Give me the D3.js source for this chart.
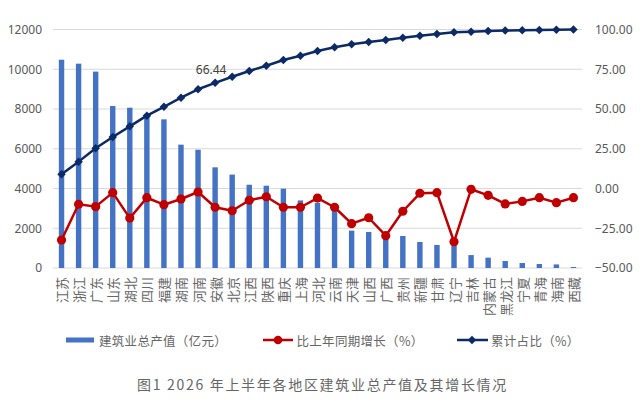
<!DOCTYPE html>
<html><head><meta charset="utf-8">
<script src="https://cdn.jsdelivr.net/npm/d3@7"></script>
<style>
html,body{margin:0;padding:0;background:#fff;}
svg{display:block;font-family:"Noto Sans","Noto Sans CJK SC",sans-serif;}
</style></head>
<body><svg id="chart" width="644" height="403"></svg>
<script>
const regions = ["江苏","浙江","广东","山东","湖北","四川","福建","湖南","河南","安徽","北京","江西","陕西","重庆","上海","河北","云南","天津","山西","广西","贵州","新疆","甘肃","辽宁","吉林","内蒙古","黑龙江","宁夏","青海","海南","西藏"];
const output = [10480,10280,9880,8150,8065,7750,7480,6205,5950,5065,4700,4190,4140,3990,3400,3270,3100,1880,1810,1750,1610,1310,1160,1250,650,520,350,250,200,180,50];
const growth = [-32.4,-9.9,-11.4,-2.6,-18.6,-5.8,-10.2,-6.6,-2.2,-11.8,-14.0,-7.4,-5.2,-11.8,-11.8,-6.0,-11.8,-22.1,-18.4,-29.7,-14.3,-3.0,-2.6,-33.5,-0.5,-4.3,-9.7,-8.1,-5.8,-8.9,-5.8];
const cumShare = [8.9,16.9,25.3,32.4,39.1,45.8,51.4,57.1,62.4,66.44,70.3,73.9,77.2,80.8,83.5,86.5,88.8,90.7,92.1,93.4,94.8,96.1,97.2,98.2,98.6,99.1,99.3,99.5,99.7,99.8,100];
const leftTicks = [0,2000,4000,6000,8000,10000,12000];
const rightTicks = [-50,-25,0,25,50,75,100];
const seriesNames = ["建筑业总产值（亿元）","比上年同期增长（%）","累计占比（%）"];
const labelIndex = 9;
const title = "图1 2026 年上半年各地区建筑业总产值及其增长情况";

const svg = d3.select("#chart");
const L = 53, R = 582, T = 29.5, B = 268;
const x = d3.scaleBand().domain(regions).range([L, R]);
const yL = d3.scaleLinear().domain([0,12000]).range([B, T]);
const yR = d3.scaleLinear().domain([-50,100]).range([B, T]);
const grey = "#595959", lightGrey = "#666666";
const cBar = "#4472C4", cRed = "#C00000", cNavy = "#0B2A66";

// gridlines
svg.append("g").selectAll("line").data(leftTicks).join("line")
  .attr("x1", L).attr("x2", R)
  .attr("y1", d => yL(d)).attr("y2", d => yL(d))
  .attr("stroke", "#D9D9D9").attr("stroke-width", 1);

// left axis labels
const gl = svg.append("g").attr("transform", `translate(${L},0)`)
  .call(d3.axisLeft(yL).tickValues(leftTicks).tickSize(0).tickPadding(11).tickFormat(d3.format("d")));
gl.select(".domain").remove();
gl.selectAll("text").attr("fill", grey).style("font-size", "12px").style("font-family", "Noto Sans");

// right axis labels
const gr = svg.append("g").attr("transform", `translate(${R},0)`)
  .call(d3.axisRight(yR).tickValues(rightTicks).tickSize(0).tickPadding(13).tickFormat(d3.format(".2f")));
gr.select(".domain").remove();
gr.selectAll("text").attr("fill", grey).style("font-size", "12px").style("font-family", "Noto Sans");

// bars
const bw = 5.4;
svg.append("g").selectAll("rect").data(output).join("rect")
  .attr("x", (d,i) => x(regions[i]) + x.bandwidth()/2 - bw/2)
  .attr("width", bw)
  .attr("y", d => yL(d))
  .attr("height", d => yL(0) - yL(d))
  .attr("fill", cBar);

// category labels
svg.append("g").selectAll("text").data(regions).join("text")
  .attr("transform", d => `translate(${x(d) + x.bandwidth()/2},277) rotate(-90)`)
  .attr("text-anchor", "end")
  .attr("dominant-baseline", "central")
  .attr("fill", lightGrey)
  .style("font-family", "Noto Sans CJK SC")
  .style("font-size", "13px")
  .text(d => d);

const cx = (i) => x(regions[i]) + x.bandwidth()/2;

// growth line
svg.append("path").datum(growth)
  .attr("d", d3.line().x((d,i) => cx(i)).y(d => yR(d)))
  .attr("fill", "none").attr("stroke", cRed).attr("stroke-width", 2.5).attr("stroke-linejoin", "round");
svg.append("g").selectAll("circle").data(growth).join("circle")
  .attr("cx", (d,i) => cx(i)).attr("cy", d => yR(d)).attr("r", 4.6).attr("fill", cRed);

// cumulative line
svg.append("path").datum(cumShare)
  .attr("d", d3.line().x((d,i) => cx(i)).y(d => yR(d)))
  .attr("fill", "none").attr("stroke", cNavy).attr("stroke-width", 2.5).attr("stroke-linejoin", "round");
const diamond = d3.symbol().type(d3.symbolDiamond2).size(46);
svg.append("g").selectAll("path").data(cumShare).join("path")
  .attr("transform", (d,i) => `translate(${cx(i)},${yR(d)})`)
  .attr("d", diamond()).attr("fill", cNavy);

// data label
svg.append("text")
  .attr("x", cx(labelIndex) - 4).attr("y", yR(cumShare[labelIndex]) - 8.5)
  .attr("text-anchor", "middle").attr("fill", "#404040")
  .style("font-size", "12px").style("font-family", "Noto Sans")
  .text(d3.format(".2f")(cumShare[labelIndex]));

// legend
const ly = 340;
const lg = svg.append("g");
const legStyle = t => t.attr("dominant-baseline", "central").attr("fill", lightGrey)
  .style("font-family", "Noto Sans CJK SC").style("font-size", "12.5px").style("letter-spacing", "0.3px");
lg.append("rect").attr("x", 66).attr("y", ly - 2.5).attr("width", 28).attr("height", 5).attr("fill", cBar);
lg.append("text").attr("x", 99).attr("y", ly).call(legStyle).text(seriesNames[0]);
lg.append("line").attr("x1", 263).attr("x2", 293).attr("y1", ly).attr("y2", ly).attr("stroke", cRed).attr("stroke-width", 2.5);
lg.append("circle").attr("cx", 278).attr("cy", ly).attr("r", 4.3).attr("fill", cRed);
lg.append("text").attr("x", 296.5).attr("y", ly).call(legStyle).text(seriesNames[1]);
lg.append("line").attr("x1", 457).attr("x2", 488).attr("y1", ly).attr("y2", ly).attr("stroke", cNavy).attr("stroke-width", 2.5);
lg.append("path").attr("transform", `translate(472,${ly})`).attr("d", diamond()).attr("fill", cNavy);
lg.append("text").attr("x", 491).attr("y", ly).call(legStyle).text(seriesNames[2]);

// title
svg.append("text").attr("x", 137).attr("y", 384).attr("dominant-baseline", "central")
  .attr("fill", lightGrey).style("font-family", "Noto Sans CJK SC").style("font-size", "14px")
  .style("letter-spacing", "1.7px").text(title);
</script></body></html>
